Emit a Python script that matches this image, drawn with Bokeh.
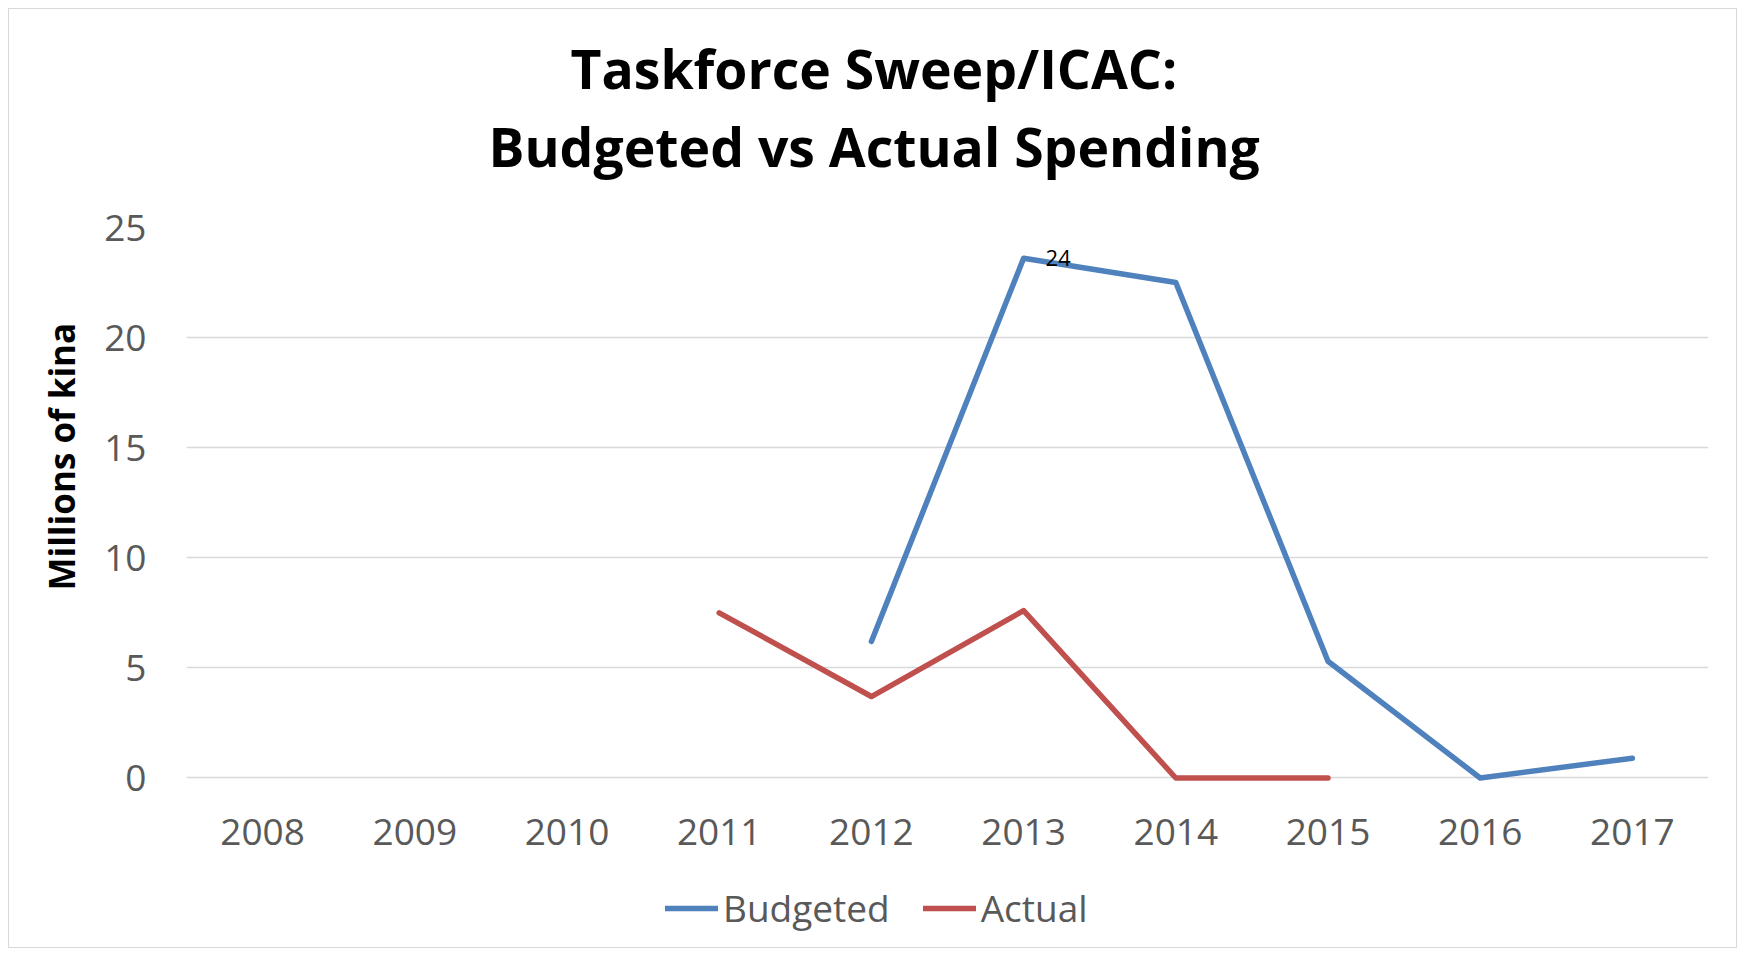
from bokeh.plotting import figure
from bokeh.models import ColumnDataSource, FactorRange, Range1d, Legend, LegendItem, SingleIntervalTicker, Title
from bokeh.layouts import column
from bokeh.core.properties import value
from bokeh.embed import file_html
from bokeh.resources import INLINE

nan = float("nan")
years = ["2008", "2009", "2010", "2011", "2012", "2013", "2014", "2015", "2016", "2017"]
budgeted = [nan, nan, nan, nan, 6.2, 23.6, 22.5, 5.3, 0.0, 0.9]
actual = [nan, nan, nan, 7.5, 3.7, 7.6, 0.0, 0.0, nan, nan]
series_names = ["Budgeted", "Actual"]
title_lines = ["Taskforce Sweep/ICAC:", "Budgeted vs Actual Spending"]
y_label = "Millions of kina"
peak_label_year = "2013"
peak_label_text = "24"

FONT = "Open Sans"
GREY = "#595959"
BLUE = "#4f81bd"
RED = "#c0504d"
W = 1727

src = ColumnDataSource(dict(year=years, budgeted=budgeted, actual=actual))

p = figure(
    x_range=FactorRange(*years),
    y_range=Range1d(-0.25, 25),
    frame_width=1522, frame_height=556,
    min_border_left=177, min_border_right=28,
    min_border_top=218, min_border_bottom=96,
    output_backend="svg", toolbar_location=None,
)
p.outline_line_color = None
p.border_fill_color = "white"
p.background_fill_color = "white"

rb = p.line("year", "budgeted", source=src, line_color=BLUE, line_width=5.5,
            line_cap="round", line_join="round")
ra = p.line("year", "actual", source=src, line_color=RED, line_width=5.5,
            line_cap="round", line_join="round")

# peak data label
i = years.index(peak_label_year)
p.text(x=[peak_label_year], y=[budgeted[i]], text=[peak_label_text],
       text_font=value(FONT), text_font_size="22px", text_color="black",
       text_align="left", text_baseline="middle", x_offset=22, y_offset=0)

# axes
p.yaxis.ticker = SingleIntervalTicker(interval=5)
for ax in (p.xaxis, p.yaxis):
    ax.axis_line_color = None
    ax.major_tick_line_color = None
    ax.minor_tick_line_color = None
    ax.major_label_text_font = FONT
    ax.major_label_text_font_size = "37px"
    ax.major_label_text_color = GREY
p.xaxis.major_label_standoff = 29
p.yaxis.major_label_standoff = 34

p.xgrid.grid_line_color = None
p.ygrid.grid_line_color = "#d9d9d9"
p.ygrid.grid_line_width = 1.5

# y-axis title (placed off-centre, as in the original)
p.add_layout(Title(text=y_label, align="left", offset=193, text_font=FONT,
                   text_font_style="bold", text_font_size="35px", text_color="black",
                   standoff=34), "left")

# chart title: spacer closest to frame, then line 2, then line 1
p.add_layout(Title(text=" ", text_font_size="36px", standoff=0), "above")
p.add_layout(Title(text=title_lines[1], align="left", offset=302, text_font=FONT,
                   text_font_style="bold", text_font_size="53.5px", text_color="black",
                   standoff=4), "above")
p.add_layout(Title(text=title_lines[0], align="left", offset=384, text_font=FONT,
                   text_font_style="bold", text_font_size="53.5px", text_color="black",
                   standoff=2), "above")

# legend strip (separate small figure so the legend is not clipped)
lf = figure(width=W, height=68, x_range=Range1d(0, 1), y_range=Range1d(0, 1),
            min_border=0, output_backend="svg", toolbar_location=None)
lf.axis.visible = False
lf.grid.visible = False
lf.outline_line_color = None
lf.border_fill_color = "white"
lb = lf.line([nan, nan], [nan, nan], line_color=BLUE, line_width=5.5, line_cap="round")
la = lf.line([nan, nan], [nan, nan], line_color=RED, line_width=5.5, line_cap="round")
legend = Legend(
    items=[LegendItem(label=series_names[0], renderers=[lb]),
           LegendItem(label=series_names[1], renderers=[la])],
    orientation="horizontal", location=(479, 14),
    label_text_font=FONT, label_text_font_size="37px", label_text_color=GREY,
    glyph_width=53, glyph_height=30, label_standoff=5, spacing=33,
    background_fill_alpha=0, border_line_alpha=0, padding=0, margin=0,
)
lf.add_layout(legend, "center")

layout = column(p, lf, spacing=0,
                styles={"border": "1.5px solid #d9d9d9", "margin-left": "8px", "margin-top": "8px"})

open("out.html", "w").write(file_html(layout, INLINE))
